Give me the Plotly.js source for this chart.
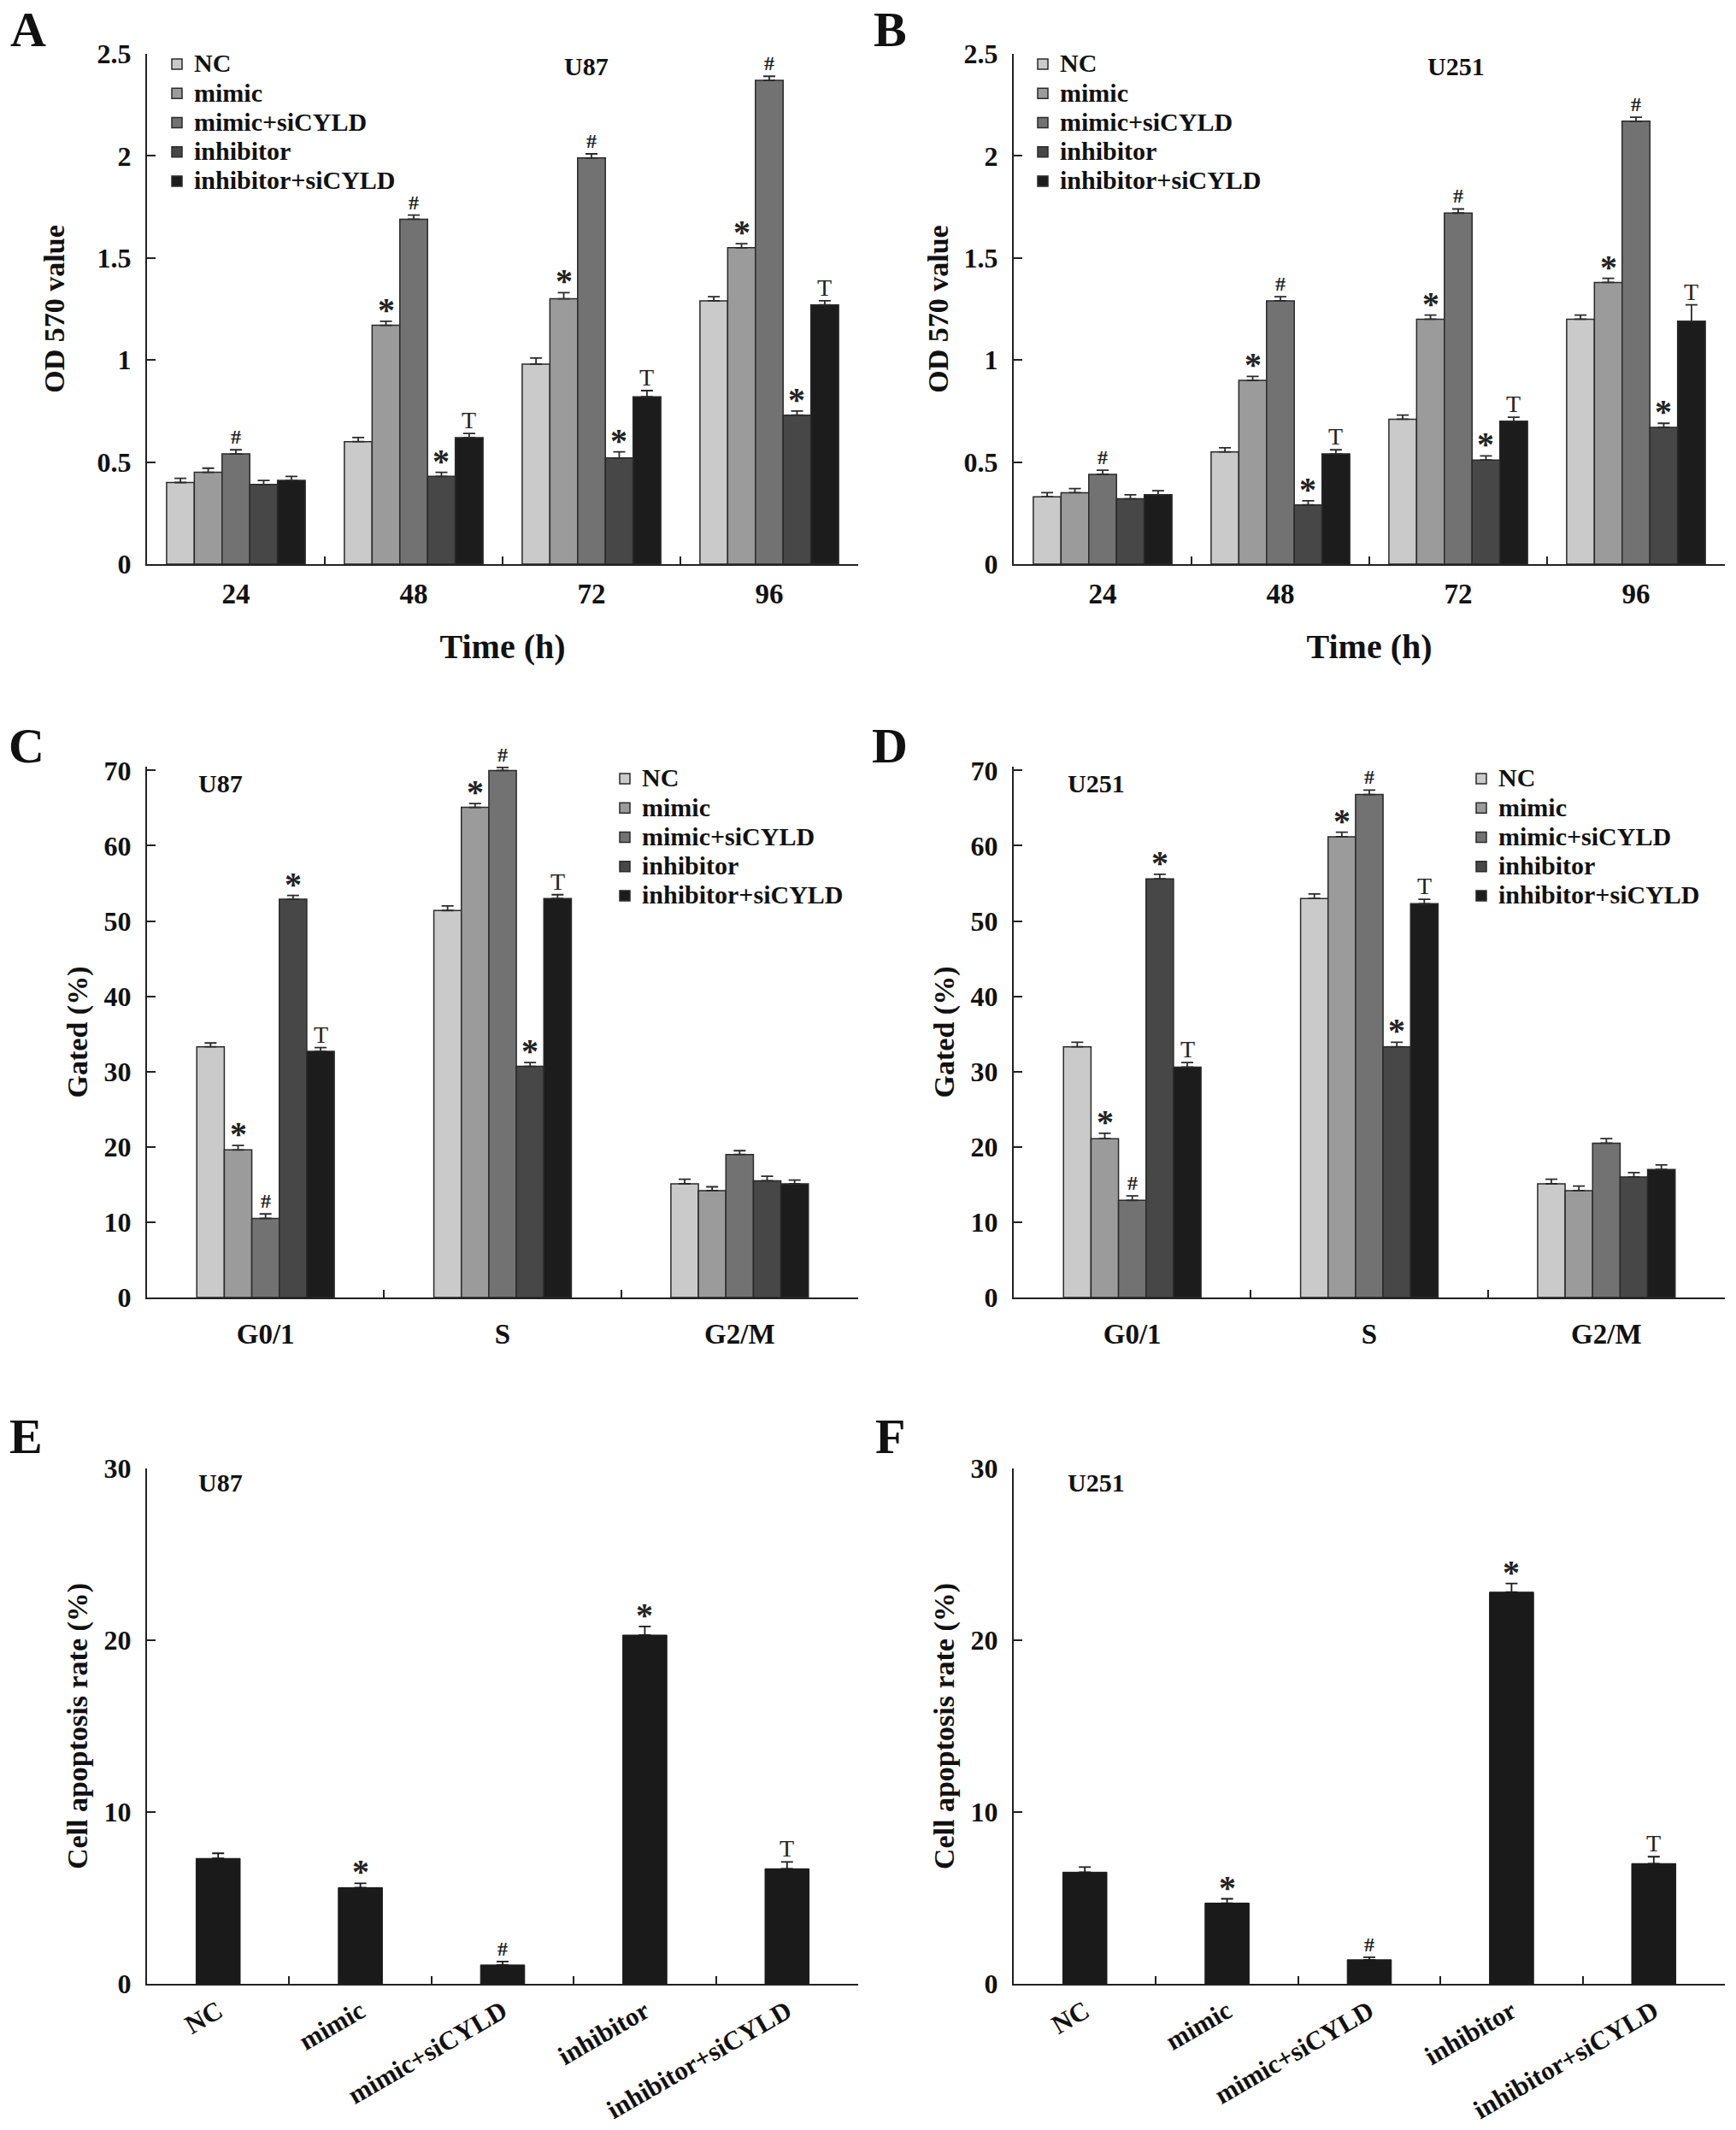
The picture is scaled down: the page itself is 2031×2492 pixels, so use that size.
<!DOCTYPE html>
<html>
<head>
<meta charset="utf-8">
<script src="https://cdn.plot.ly/plotly-3.0.1.min.js"></script>
<style>
  body { margin: 0; background: #fff; }
  #plot { width: 2031px; height: 2492px; }
</style>
</head>
<body>
<div id="plot"></div>
<script>
// ---- data ----
var groups = ['NC', 'mimic', 'mimic+siCYLD', 'inhibitor', 'inhibitor+siCYLD'];

// A / B : OD 570 vs time
var timeLabels = ['24', '48', '72', '96'];
var u87OD = [
  [0.40, 0.60, 0.98, 1.29],
  [0.45, 1.17, 1.30, 1.55],
  [0.54, 1.69, 1.99, 2.37],
  [0.39, 0.43, 0.52, 0.73],
  [0.41, 0.62, 0.82, 1.27]
];
var u87ODErr = [
  [0.02, 0.02, 0.03, 0.02],
  [0.02, 0.02, 0.03, 0.02],
  [0.02, 0.02, 0.02, 0.02],
  [0.02, 0.02, 0.03, 0.02],
  [0.02, 0.02, 0.03, 0.02]
];
var u251OD = [
  [0.33, 0.55, 0.71, 1.20],
  [0.35, 0.90, 1.20, 1.38],
  [0.44, 1.29, 1.72, 2.17],
  [0.32, 0.29, 0.51, 0.67],
  [0.34, 0.54, 0.70, 1.19]
];
var u251ODErr = [
  [0.02, 0.02, 0.02, 0.02],
  [0.02, 0.02, 0.02, 0.02],
  [0.02, 0.02, 0.02, 0.02],
  [0.02, 0.02, 0.02, 0.02],
  [0.02, 0.02, 0.02, 0.08]
];
var odMarks = [
  ['', '', '', ''],
  ['', '*', '*', '*'],
  ['#', '#', '#', '#'],
  ['', '*', '*', '*'],
  ['', 'T', 'T', 'T']
];

// C / D : cell cycle
var phaseLabels = ['G0/1', 'S', 'G2/M'];
var u87Phase = [
  [33.3, 51.4, 15.1],
  [19.6, 65.1, 14.2],
  [10.5, 70.0, 19.0],
  [52.9, 30.7, 15.5],
  [32.7, 53.0, 15.1]
];
var u87PhaseErr = [
  [0.5, 0.6, 0.6],
  [0.6, 0.5, 0.5],
  [0.6, 0.4, 0.5],
  [0.5, 0.5, 0.6],
  [0.5, 0.5, 0.5]
];
var u251Phase = [
  [33.3, 53.0, 15.1],
  [21.1, 61.2, 14.2],
  [12.9, 66.8, 20.5],
  [55.6, 33.3, 16.0],
  [30.6, 52.3, 17.0]
];
var u251PhaseErr = [
  [0.6, 0.6, 0.6],
  [0.7, 0.6, 0.6],
  [0.6, 0.6, 0.6],
  [0.6, 0.6, 0.6],
  [0.6, 0.6, 0.6]
];
var phaseMarks = [
  ['', '', ''],
  ['*', '*', ''],
  ['#', '#', ''],
  ['*', '*', ''],
  ['T', 'T', '']
];

// E / F : apoptosis
var u87Apop = [7.3, 5.6, 1.1, 20.3, 6.7];
var u87ApopErr = [0.3, 0.25, 0.2, 0.5, 0.4];
var u251Apop = [6.5, 4.7, 1.4, 22.8, 7.0];
var u251ApopErr = [0.3, 0.25, 0.15, 0.5, 0.4];
var apopMarks = ['', '*', '#', '*', 'T'];

// ---- styling ----
var W = 2031, H = 2492;
var SERIF = '"Liberation Serif", "Times New Roman", serif';
var INK = '#222222';
var groupColors = ['#cacaca', '#9b9b9b', '#727272', '#474747', '#1c1c1c'];
var markFont = {
  '*': {family: SERIF, size: 40, weight: 'bold', color: INK},
  '#': {family: SERIF, size: 24, weight: 'bold', color: INK},
  'T': {family: SERIF, size: 28, color: INK}
};
var markShift = {'*': -11, '#': 0, 'T': -2};

function fx(px) { return px / W; }
function fy(py) { return 1 - py / H; }

var data = [];
var annotations = [];
var layout = {
  width: W, height: H,
  margin: {l: 0, r: 0, t: 0, b: 0},
  paper_bgcolor: '#ffffff',
  plot_bgcolor: '#ffffff',
  barmode: 'overlay',
  showlegend: true,
  annotations: annotations
};

function axisKeys(n) {
  var s = n === 1 ? '' : String(n);
  return {x: 'x' + s, y: 'y' + s, xa: 'xaxis' + s, ya: 'yaxis' + s};
}

function setAxes(n, box, cats, yRange, yDtick, xTitle, yTitle, opts) {
  var k = axisKeys(n);
  layout[k.xa] = {
    domain: [fx(box[0]), fx(box[1])],
    anchor: k.y,
    type: 'category',
    categoryorder: 'array', categoryarray: cats,
    range: [-0.5, cats.length - 0.5],
    showline: true, linecolor: INK, linewidth: 2,
    ticks: 'inside', tickson: 'boundaries', ticklen: 9, tickwidth: 2, tickcolor: INK,
    tickangle: opts.tickangle || 0,
    tickfont: {family: SERIF, size: opts.xtickSize || 33, weight: 'bold', color: '#111'},
    ticklabelstandoff: opts.xStandoff,
    showgrid: false, zeroline: false, fixedrange: true,
    title: {text: xTitle, font: {family: SERIF, size: 40, weight: 'bold', color: '#111'}, standoff: 30}
  };
  layout[k.ya] = {
    domain: [fy(box[3]), fy(box[2])],
    anchor: k.x,
    range: yRange, dtick: yDtick, tick0: 0,
    showline: true, linecolor: INK, linewidth: 2,
    ticks: 'inside', ticklen: 10, tickwidth: 2, tickcolor: INK,
    tickfont: {family: SERIF, size: 32, weight: 'bold', color: '#111'},
    ticklabelstandoff: 10,
    showgrid: false, zeroline: false, fixedrange: true,
    title: {text: yTitle, font: {family: SERIF, size: 34, weight: 'bold', color: '#111'}, standoff: opts.yTitleStandoff}
  };
}

function addMark(k, x, y, txt) {
  if (!txt) return;
  annotations.push({
    xref: k.x, yref: k.y, x: x, y: y, text: txt, showarrow: false,
    xanchor: 'center', yanchor: 'bottom', yshift: markShift[txt],
    font: markFont[txt]
  });
}

function groupedPanel(n, box, cats, values, errs, marks, legendId, groupW, yRange, yDtick, xTitle, yTitle, opts) {
  var k = axisKeys(n);
  var w = groupW / values.length;
  setAxes(n, box, cats, yRange, yDtick, xTitle, yTitle, opts);
  values.forEach(function (vals, i) {
    var off = -groupW / 2 + i * w;
    data.push({
      type: 'bar', name: '<span style="font-size:30px">' + groups[i] + '</span>',
      x: cats, y: vals,
      xaxis: k.x, yaxis: k.y, legend: legendId, showlegend: true,
      offset: off, width: w,
      marker: {color: groupColors[i], line: {color: '#2a2a2a', width: 1.5}},
      error_y: {type: 'data', symmetric: false, array: errs[i],
                arrayminus: vals.map(function () { return 0; }),
                color: '#2a2a2a', thickness: 1.8, width: 7},
      hoverinfo: 'skip'
    });
    vals.forEach(function (v, j) {
      addMark(k, j + off + w / 2, v + errs[i][j], marks[i][j]);
    });
  });
}

function apopPanel(n, box, values, errs, yTitle) {
  var k = axisKeys(n);
  var w = 0.31;
  setAxes(n, box, groups, [0, 30], 10, '', yTitle,
          {tickangle: -30, xtickSize: 31, xStandoff: 0, yTitleStandoff: 9});
  data.push({
    type: 'bar', name: 'apoptosis', x: groups, y: values,
    xaxis: k.x, yaxis: k.y, showlegend: false,
    offset: -w / 2, width: w,
    marker: {color: '#1a1a1a', line: {color: '#1a1a1a', width: 1}},
    error_y: {type: 'data', symmetric: false, array: errs,
              arrayminus: values.map(function () { return 0; }),
              color: '#1a1a1a', thickness: 1.8, width: 7},
    hoverinfo: 'skip'
  });
  values.forEach(function (v, j) { addMark(k, j, v + errs[j], apopMarks[j]); });
}

function legendAt(px, py) {
  return {
    x: fx(px), y: fy(py), xanchor: 'left', yanchor: 'top',
    bgcolor: 'rgba(0,0,0,0)', borderwidth: 0,
    font: {family: SERIF, size: 24, weight: 'bold', color: '#111'},
    tracegroupgap: 0, itemwidth: 30, itemclick: false, itemdoubleclick: false
  };
}

function label(px, py, txt, size) {
  annotations.push({
    xref: 'paper', yref: 'paper', x: fx(px), y: fy(py), text: txt, showarrow: false,
    xanchor: 'center', yanchor: 'middle',
    font: {family: SERIF, size: size, weight: 'bold', color: '#111'}
  });
}

// ---- panels ----
groupedPanel(1, [172, 1004, 63, 660], timeLabels, u87OD, u87ODErr, odMarks, 'legend', 0.78,
             [0, 2.5], 0.5, 'Time (h)', 'OD 570 value', {xStandoff: 4, yTitleStandoff: 28});
groupedPanel(2, [1186, 2018, 63, 660], timeLabels, u251OD, u251ODErr, odMarks, 'legend2', 0.78,
             [0, 2.5], 0.5, 'Time (h)', 'OD 570 value', {xStandoff: 4, yTitleStandoff: 8});
groupedPanel(3, [172, 1004, 897, 1518], phaseLabels, u87Phase, u87PhaseErr, phaseMarks, 'legend3', 0.58,
             [0, 70.5], 10, '', 'Gated (%)', {xStandoff: 12, yTitleStandoff: 9});
groupedPanel(4, [1186, 2018, 897, 1518], phaseLabels, u251Phase, u251PhaseErr, phaseMarks, 'legend4', 0.58,
             [0, 70.5], 10, '', 'Gated (%)', {xStandoff: 12, yTitleStandoff: 9});
apopPanel(5, [172, 1004, 1718, 2321], u87Apop, u87ApopErr, 'Cell apoptosis rate (%)');
apopPanel(6, [1186, 2018, 1718, 2321], u251Apop, u251ApopErr, 'Cell apoptosis rate (%)');

layout.legend = legendAt(187, 53);
layout.legend2 = legendAt(1200, 53);
layout.legend3 = legendAt(711, 889);
layout.legend4 = legendAt(1713, 889);

// panel letters and cell line labels
label(33, 35, 'A', 58); label(1041, 35, 'B', 58);
label(31, 872, 'C', 58); label(1041, 872, 'D', 58);
label(30, 1680, 'E', 58); label(1041, 1680, 'F', 58);
label(686, 77, 'U87', 30); label(1703, 77, 'U251', 30);
label(258, 916, 'U87', 30); label(1282, 916, 'U251', 30);
label(258, 1734, 'U87', 30); label(1282, 1734, 'U251', 30);

Plotly.newPlot('plot', data, layout, {staticPlot: true});
</script>
</body>
</html>
